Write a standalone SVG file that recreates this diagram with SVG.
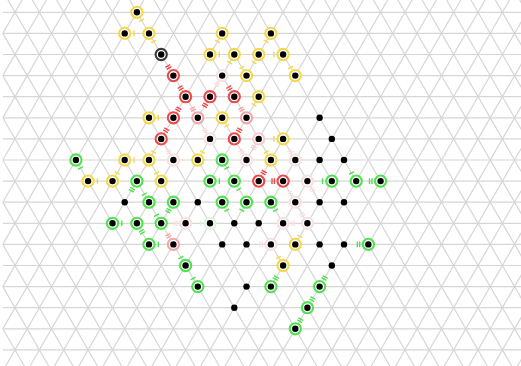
<svg xmlns="http://www.w3.org/2000/svg" xmlns:xlink="http://www.w3.org/1999/xlink" width="521" height="366" viewBox="0 0 521 366">
<style>
.grid{fill:none;stroke:#d6d6d6;stroke-width:1.2}
.ring{fill:#fff;stroke-width:2.1}
.dot{fill:#000;stroke:none}
.tk{fill:none;stroke-width:1.4}
.y{stroke:#f4d84a}
.r{stroke:#ee4848}
.g{stroke:#4fe24f}
.d{stroke:#3a3a3a}
.p{stroke:#f4a6a6}
.q{stroke:#f6cdcd}
.f{stroke:#f9e0e0}
.fg{stroke:#dcf7dc}
</style>
<defs>
<clipPath id="clip"><rect x="2.8" y="0" width="520" height="366"/></clipPath>
<path id="t1" class="tk" d="M9.3,-2.8V2.8"/>
<path id="t2" class="tk" d="M8.7,-2.8V2.8M11.1,-2.8V2.8"/>
</defs>
<rect width="521" height="366" fill="#fff"/>
<g id="connectors" class="grid" clip-path="url(#clip)">
<path d="M2.8,12.3H521M2.8,33.4H521M2.8,54.5H521M2.8,75.6H521M2.8,96.7H521M2.8,117.8H521M2.8,138.9H521M2.8,160H521M2.8,181.1H521M2.8,202.2H521M2.8,223.3H521M2.8,244.4H521M2.8,265.5H521M2.8,286.6H521M2.8,307.7H521M2.8,328.8H521M2.8,349.9H521"/>
<path d="M-187.06,0L24.3,366M-162.69,0L48.67,366M-138.32,0L73.04,366M-113.95,0L97.41,366M-89.58,0L121.78,366M-65.21,0L146.15,366M-40.84,0L170.52,366M-16.47,0L194.89,366M7.9,0L219.26,366M32.27,0L243.63,366M56.64,0L268,366M81.01,0L292.37,366M105.38,0L316.74,366M129.75,0L341.11,366M154.12,0L365.48,366M178.49,0L389.85,366M202.86,0L414.22,366M227.23,0L438.59,366M251.6,0L462.96,366M275.97,0L487.33,366M300.34,0L511.7,366M324.71,0L536.07,366M349.08,0L560.44,366M373.45,0L584.81,366M397.82,0L609.18,366M422.19,0L633.55,366M446.56,0L657.92,366M470.93,0L682.29,366M495.3,0L706.66,366M519.67,0L731.03,366"/>
<path d="M22.1,0L-189.26,366M46.47,0L-164.89,366M70.84,0L-140.52,366M95.21,0L-116.15,366M119.58,0L-91.78,366M143.95,0L-67.41,366M168.32,0L-43.04,366M192.69,0L-18.67,366M217.06,0L5.7,366M241.43,0L30.07,366M265.8,0L54.44,366M290.17,0L78.81,366M314.54,0L103.18,366M338.91,0L127.55,366M363.28,0L151.92,366M387.65,0L176.29,366M412.02,0L200.66,366M436.39,0L225.03,366M460.76,0L249.4,366M485.13,0L273.77,366M509.5,0L298.14,366M533.87,0L322.51,366M558.24,0L346.88,366M582.61,0L371.25,366M606.98,0L395.62,366M631.35,0L419.99,366M655.72,0L444.36,366M680.09,0L468.73,366M704.46,0L493.1,366M728.83,0L517.47,366"/>
</g>
<g id="nodes">
<g id="n0-5" class="y" transform="translate(136.9,12.3)"><circle class="ring" r="5.6"/><circle class="dot" r="3.2"/><use xlink:href="#t1" transform="rotate(60)"/></g>
<g id="n1-5" class="y" transform="translate(124.7,33.4)"><circle class="ring" r="5.6"/><circle class="dot" r="3.2"/><use xlink:href="#t1"/></g>
<g id="n1-6" class="y" transform="translate(149,33.4)"><circle class="ring" r="5.6"/><circle class="dot" r="3.2"/><use xlink:href="#t1" transform="rotate(60)"/></g>
<g id="n1-9" class="y" transform="translate(222.2,33.4)"><circle class="ring" r="5.6"/><circle class="dot" r="3.2"/><use xlink:href="#t1" transform="rotate(120)"/></g>
<g id="n1-11" class="y" transform="translate(270.9,33.4)"><circle class="ring" r="5.6"/><circle class="dot" r="3.2"/><use xlink:href="#t1" transform="rotate(120)"/></g>
<g id="n2-6" class="d" transform="translate(161.2,54.5)"><circle class="ring" r="5.6"/><circle class="dot" r="3.2"/></g>
<g id="n2-8" class="y" transform="translate(210,54.5)"><circle class="ring" r="5.6"/><circle class="dot" r="3.2"/><use xlink:href="#t1"/></g>
<g id="n2-9" class="y" transform="translate(234.3,54.5)"><circle class="ring" r="5.6"/><circle class="dot" r="3.2"/><use xlink:href="#t1" transform="rotate(120)"/></g>
<g id="n2-10" class="y" transform="translate(258.7,54.5)"><circle class="ring" r="5.6"/><circle class="dot" r="3.2"/><use xlink:href="#t1" transform="rotate(120)"/></g>
<g id="n2-11" class="y" transform="translate(283.1,54.5)"><circle class="ring" r="5.6"/><circle class="dot" r="3.2"/><use xlink:href="#t1" transform="rotate(180)"/></g>
<g id="n3-7" class="r" transform="translate(173.4,75.6)"><circle class="ring" r="5.6"/><circle class="dot" r="3.2"/><use xlink:href="#t2" transform="rotate(-120)"/></g>
<g id="n3-9" class="f" transform="translate(222.2,75.6)"><circle class="ring" r="5.6"/><circle class="dot" r="3.2"/><use xlink:href="#t2" transform="rotate(120)"/></g>
<g id="n3-10" class="y" transform="translate(246.5,75.6)"><circle class="ring" r="5.6"/><circle class="dot" r="3.2"/><use xlink:href="#t1" transform="rotate(-120)"/></g>
<g id="n3-12" class="y" transform="translate(295.3,75.6)"><circle class="ring" r="5.6"/><circle class="dot" r="3.2"/><use xlink:href="#t1" transform="rotate(-120)"/></g>
<g id="n4-7" class="r" transform="translate(185.6,96.7)"><circle class="ring" r="5.6"/><circle class="dot" r="3.2"/><use xlink:href="#t2" transform="rotate(-120)"/></g>
<g id="n4-8" class="r" transform="translate(210,96.7)"><circle class="ring" r="5.6"/><circle class="dot" r="3.2"/><use xlink:href="#t2" transform="rotate(120)"/></g>
<g id="n4-9" class="r" transform="translate(234.3,96.7)"><circle class="ring" r="5.6"/><circle class="dot" r="3.2"/><use xlink:href="#t2" transform="rotate(-120)"/></g>
<g id="n4-10" class="y" transform="translate(258.7,96.7)"><circle class="ring" r="5.6"/><circle class="dot" r="3.2"/><use xlink:href="#t1" transform="rotate(120)"/></g>
<g id="n5-6" class="y" transform="translate(149,117.8)"><circle class="ring" r="5.6"/><circle class="dot" r="3.2"/><use xlink:href="#t1"/></g>
<g id="n5-7" class="r" transform="translate(173.4,117.8)"><circle class="ring" r="5.6"/><circle class="dot" r="3.2"/><use xlink:href="#t2" transform="rotate(-60)"/></g>
<g id="n5-8" class="p" transform="translate(197.8,117.8)"><circle class="ring" r="5.6"/><circle class="dot" r="3.2"/><use xlink:href="#t2" transform="rotate(-120)"/></g>
<g id="n5-9" class="y" transform="translate(222.2,117.8)"><circle class="ring" r="5.6"/><circle class="dot" r="3.2"/><use xlink:href="#t1" transform="rotate(60)"/></g>
<g id="n5-10" class="p" transform="translate(246.5,117.8)"><circle class="ring" r="5.6"/><circle class="dot" r="3.2"/><use xlink:href="#t2" transform="rotate(-120)"/></g>
<g id="n5-13" transform="translate(319.6,117.8)"><circle class="dot" r="3.2"/></g>
<g id="n6-6" class="r" transform="translate(161.2,138.9)"><circle class="ring" r="5.6"/><circle class="dot" r="3.2"/><use xlink:href="#t2" transform="rotate(-60)"/></g>
<g id="n6-8" class="f" transform="translate(210,138.9)"><circle class="ring" r="5.6"/><circle class="dot" r="3.2"/><use xlink:href="#t2" transform="rotate(-120)"/></g>
<g id="n6-9" class="r" transform="translate(234.3,138.9)"><circle class="ring" r="5.6"/><circle class="dot" r="3.2"/><use xlink:href="#t2" transform="rotate(-60)"/></g>
<g id="n6-10" class="q" transform="translate(258.7,138.9)"><circle class="ring" r="5.6"/><circle class="dot" r="3.2"/><use xlink:href="#t2" transform="rotate(120)"/></g>
<g id="n6-11" class="y" transform="translate(283.1,138.9)"><circle class="ring" r="5.6"/><circle class="dot" r="3.2"/><use xlink:href="#t1" transform="rotate(180)"/></g>
<g id="n6-13" transform="translate(331.8,138.9)"><circle class="dot" r="3.2"/></g>
<g id="n7-3" class="g" transform="translate(75.9,160)"><circle class="ring" r="5.6"/><circle class="dot" r="3.2"/><use xlink:href="#t1" transform="rotate(60)"/></g>
<g id="n7-5" class="y" transform="translate(124.7,160)"><circle class="ring" r="5.6"/><circle class="dot" r="3.2"/><use xlink:href="#t1"/></g>
<g id="n7-6" class="y" transform="translate(149,160)"><circle class="ring" r="5.6"/><circle class="dot" r="3.2"/><use xlink:href="#t1" transform="rotate(-60)"/></g>
<g id="n7-7" class="f" transform="translate(173.4,160)"><circle class="ring" r="5.6"/><circle class="dot" r="3.2"/><use xlink:href="#t2" transform="rotate(-120)"/></g>
<g id="n7-8" class="y" transform="translate(197.8,160)"><circle class="ring" r="5.6"/><circle class="dot" r="3.2"/><use xlink:href="#t1" transform="rotate(-60)"/></g>
<g id="n7-9" class="g" transform="translate(222.2,160)"><circle class="ring" r="5.6"/><circle class="dot" r="3.2"/><use xlink:href="#t1" transform="rotate(60)"/></g>
<g id="n7-10" class="f" transform="translate(246.5,160)"><circle class="ring" r="5.6"/><circle class="dot" r="3.2"/><use xlink:href="#t2" transform="rotate(-120)"/></g>
<g id="n7-11" class="y" transform="translate(270.9,160)"><circle class="ring" r="5.6"/><circle class="dot" r="3.2"/><use xlink:href="#t1" transform="rotate(-120)"/></g>
<g id="n7-12" class="f" transform="translate(295.3,160)"><circle class="ring" r="5.6"/><circle class="dot" r="3.2"/><use xlink:href="#t2" transform="rotate(-120)"/></g>
<g id="n7-13" transform="translate(319.6,160)"><circle class="dot" r="3.2"/></g>
<g id="n7-14" transform="translate(344,160)"><circle class="dot" r="3.2"/></g>
<g id="n8-3" class="y" transform="translate(88.1,181.1)"><circle class="ring" r="5.6"/><circle class="dot" r="3.2"/><use xlink:href="#t1"/></g>
<g id="n8-4" class="y" transform="translate(112.5,181.1)"><circle class="ring" r="5.6"/><circle class="dot" r="3.2"/><use xlink:href="#t1" transform="rotate(-60)"/></g>
<g id="n8-5" class="g" transform="translate(136.9,181.1)"><circle class="ring" r="5.6"/><circle class="dot" r="3.2"/><use xlink:href="#t2" transform="rotate(120)"/></g>
<g id="n8-6" class="y" transform="translate(161.2,181.1)"><circle class="ring" r="5.6"/><circle class="dot" r="3.2"/><use xlink:href="#t1" transform="rotate(-120)"/></g>
<g id="n8-8" class="g" transform="translate(210,181.1)"><circle class="ring" r="5.6"/><circle class="dot" r="3.2"/><use xlink:href="#t1"/></g>
<g id="n8-9" class="g" transform="translate(234.3,181.1)"><circle class="ring" r="5.6"/><circle class="dot" r="3.2"/><use xlink:href="#t1" transform="rotate(60)"/></g>
<g id="n8-10" class="r" transform="translate(258.7,181.1)"><circle class="ring" r="5.6"/><circle class="dot" r="3.2"/><use xlink:href="#t2" transform="rotate(-60)"/></g>
<g id="n8-11" class="r" transform="translate(283.1,181.1)"><circle class="ring" r="5.6"/><circle class="dot" r="3.2"/><use xlink:href="#t2" transform="rotate(180)"/></g>
<g id="n8-12" class="f" transform="translate(307.4,181.1)"><circle class="ring" r="5.6"/><circle class="dot" r="3.2"/><use xlink:href="#t2" transform="rotate(60)"/></g>
<g id="n8-13" class="g" transform="translate(331.8,181.1)"><circle class="ring" r="5.6"/><circle class="dot" r="3.2"/><use xlink:href="#t1" transform="rotate(180)"/></g>
<g id="n8-14" class="g" transform="translate(356.2,181.1)"><circle class="ring" r="5.6"/><circle class="dot" r="3.2"/><use xlink:href="#t1" transform="rotate(-120)"/></g>
<g id="n8-15" class="g" transform="translate(380.6,181.1)"><circle class="ring" r="5.6"/><circle class="dot" r="3.2"/><use xlink:href="#t2" transform="rotate(180)"/></g>
<g id="n9-5" transform="translate(124.7,202.2)"><circle class="dot" r="3.2"/></g>
<g id="n9-6" class="g" transform="translate(149,202.2)"><circle class="ring" r="5.6"/><circle class="dot" r="3.2"/><use xlink:href="#t1" transform="rotate(-120)"/></g>
<g id="n9-7" class="g" transform="translate(173.4,202.2)"><circle class="ring" r="5.6"/><circle class="dot" r="3.2"/><use xlink:href="#t2" transform="rotate(120)"/></g>
<g id="n9-8" transform="translate(197.8,202.2)"><circle class="dot" r="3.2"/></g>
<g id="n9-9" class="g" transform="translate(222.2,202.2)"><circle class="ring" r="5.6"/><circle class="dot" r="3.2"/><use xlink:href="#t1" transform="rotate(60)"/></g>
<g id="n9-10" class="g" transform="translate(246.5,202.2)"><circle class="ring" r="5.6"/><circle class="dot" r="3.2"/><use xlink:href="#t1" transform="rotate(120)"/></g>
<g id="n9-11" class="g" transform="translate(270.9,202.2)"><circle class="ring" r="5.6"/><circle class="dot" r="3.2"/><use xlink:href="#t1" transform="rotate(60)"/></g>
<g id="n9-12" class="f" transform="translate(295.3,202.2)"><circle class="ring" r="5.6"/><circle class="dot" r="3.2"/><use xlink:href="#t2" transform="rotate(-120)"/></g>
<g id="n9-13" transform="translate(319.6,202.2)"><circle class="dot" r="3.2"/></g>
<g id="n9-14" transform="translate(344,202.2)"><circle class="dot" r="3.2"/></g>
<g id="n10-4" class="g" transform="translate(112.5,223.3)"><circle class="ring" r="5.6"/><circle class="dot" r="3.2"/><use xlink:href="#t1"/></g>
<g id="n10-5" class="g" transform="translate(136.9,223.3)"><circle class="ring" r="5.6"/><circle class="dot" r="3.2"/><use xlink:href="#t2" transform="rotate(60)"/></g>
<g id="n10-6" class="g" transform="translate(161.2,223.3)"><circle class="ring" r="5.6"/><circle class="dot" r="3.2"/><use xlink:href="#t1" transform="rotate(-120)"/></g>
<g id="n10-7" class="f" transform="translate(185.6,223.3)"><circle class="ring" r="5.6"/><circle class="dot" r="3.2"/><use xlink:href="#t2" transform="rotate(180)"/></g>
<g id="n10-8" class="fg" transform="translate(210,223.3)"><circle class="ring" r="5.6"/><circle class="dot" r="3.2"/><use xlink:href="#t1" transform="rotate(180)"/></g>
<g id="n10-9" transform="translate(234.3,223.3)"><circle class="dot" r="3.2"/></g>
<g id="n10-10" transform="translate(258.7,223.3)"><circle class="dot" r="3.2"/></g>
<g id="n10-11" class="f" transform="translate(283.1,223.3)"><circle class="ring" r="5.6"/><circle class="dot" r="3.2"/><use xlink:href="#t2"/></g>
<g id="n10-12" class="f" transform="translate(307.4,223.3)"><circle class="ring" r="5.6"/><circle class="dot" r="3.2"/><use xlink:href="#t2" transform="rotate(-120)"/></g>
<g id="n11-6" class="g" transform="translate(149,244.4)"><circle class="ring" r="5.6"/><circle class="dot" r="3.2"/><use xlink:href="#t1"/></g>
<g id="n11-7" class="p" transform="translate(173.4,244.4)"><circle class="ring" r="5.6"/><circle class="dot" r="3.2"/><use xlink:href="#t2" transform="rotate(-120)"/></g>
<g id="n11-9" transform="translate(222.2,244.4)"><circle class="dot" r="3.2"/></g>
<g id="n11-10" transform="translate(246.5,244.4)"><circle class="dot" r="3.2"/></g>
<g id="n11-11" class="f" transform="translate(270.9,244.4)"><circle class="ring" r="5.6"/><circle class="dot" r="3.2"/><use xlink:href="#t2" transform="rotate(180)"/></g>
<g id="n11-12" class="y" transform="translate(295.3,244.4)"><circle class="ring" r="5.6"/><circle class="dot" r="3.2"/><use xlink:href="#t1" transform="rotate(-60)"/></g>
<g id="n11-13" transform="translate(319.6,244.4)"><circle class="dot" r="3.2"/></g>
<g id="n11-14" transform="translate(344,244.4)"><circle class="dot" r="3.2"/></g>
<g id="n11-15" class="g" transform="translate(368.4,244.4)"><circle class="ring" r="5.6"/><circle class="dot" r="3.2"/><use xlink:href="#t2" transform="rotate(180)"/></g>
<g id="n12-7" class="g" transform="translate(185.6,265.5)"><circle class="ring" r="5.6"/><circle class="dot" r="3.2"/><use xlink:href="#t1" transform="rotate(-120)"/></g>
<g id="n12-11" class="y" transform="translate(283.1,265.5)"><circle class="ring" r="5.6"/><circle class="dot" r="3.2"/><use xlink:href="#t1" transform="rotate(-120)"/></g>
<g id="n12-13" transform="translate(331.8,265.5)"><circle class="dot" r="3.2"/></g>
<g id="n13-8" class="g" transform="translate(197.8,286.6)"><circle class="ring" r="5.6"/><circle class="dot" r="3.2"/><use xlink:href="#t1" transform="rotate(-120)"/></g>
<g id="n13-10" transform="translate(246.5,286.6)"><circle class="dot" r="3.2"/></g>
<g id="n13-11" class="g" transform="translate(270.9,286.6)"><circle class="ring" r="5.6"/><circle class="dot" r="3.2"/><use xlink:href="#t2" transform="rotate(-60)"/></g>
<g id="n13-13" class="g" transform="translate(319.6,286.6)"><circle class="ring" r="5.6"/><circle class="dot" r="3.2"/><use xlink:href="#t2" transform="rotate(-60)"/></g>
<g id="n14-9" transform="translate(234.3,307.7)"><circle class="dot" r="3.2"/></g>
<g id="n14-12" class="g" transform="translate(307.4,307.7)"><circle class="ring" r="5.6"/><circle class="dot" r="3.2"/><use xlink:href="#t2" transform="rotate(-60)"/></g>
<g id="n15-12" class="g" transform="translate(295.3,328.8)"><circle class="ring" r="5.6"/><circle class="dot" r="3.2"/><use xlink:href="#t2" transform="rotate(-60)"/></g>
</g>
</svg>
